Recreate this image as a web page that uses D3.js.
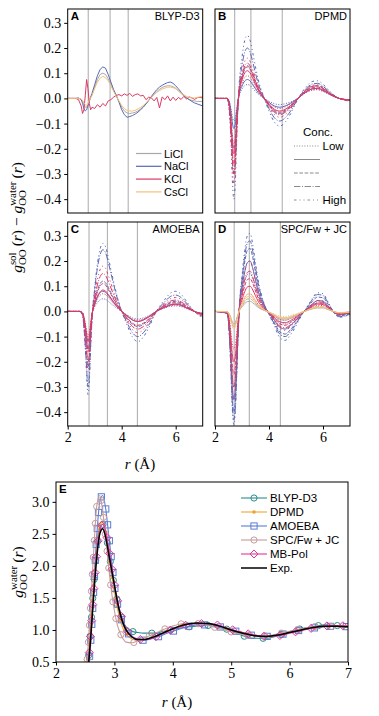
<!DOCTYPE html>
<html><head><meta charset="utf-8">
<script src="https://cdn.jsdelivr.net/npm/d3@7"></script>
<style>body{margin:0;background:#fff;}</style>
</head><body>
<svg id="c" width="379" height="716"></svg>
<script>
// ---------------- DATA ----------------
const rA = [2.0,2.3,2.4,2.5,2.55,2.6,2.65,2.7,2.75,2.8,2.85,2.9,3.0,3.1,3.2,3.3,3.4,3.5,3.6,3.7,3.8,3.9,4.0,4.1,4.2,4.3,4.4,4.5,4.6,4.7,4.8,4.9,5.0,5.1,5.2,5.3,5.4,5.5,5.6,5.7,5.8,5.9,6.0,6.1,6.2,6.3,6.4,6.5,6.6,6.7,6.8,6.9,7.0];
const blypLiCl = [0,0,0,-0.003,-0.012,-0.025,-0.035,-0.035,-0.025,-0.01,0.003,0.015,0.045,0.075,0.095,0.1,0.095,0.078,0.055,0.03,0.01,-0.012,-0.035,-0.05,-0.058,-0.06,-0.058,-0.055,-0.05,-0.042,-0.032,-0.02,-0.008,0.005,0.016,0.027,0.036,0.043,0.048,0.05,0.05,0.046,0.04,0.03,0.02,0.01,0.002,-0.004,-0.008,-0.01,-0.012,-0.012,-0.012];
const blypNaCl = [0,0,0.002,-0.005,-0.02,-0.04,-0.05,-0.045,-0.03,-0.012,0.005,0.02,0.055,0.09,0.115,0.125,0.12,0.095,0.065,0.035,0.012,-0.015,-0.045,-0.065,-0.075,-0.072,-0.068,-0.062,-0.055,-0.045,-0.035,-0.022,-0.008,0.008,0.022,0.035,0.045,0.052,0.058,0.063,0.065,0.06,0.05,0.038,0.025,0.012,0.002,-0.005,-0.012,-0.018,-0.022,-0.026,-0.03];
const blypKCl = [0,0,-0.005,-0.03,-0.06,-0.045,0.01,0.075,0.04,-0.02,-0.045,-0.035,-0.04,-0.025,-0.035,-0.02,-0.03,-0.01,-0.005,0.005,0.012,0.015,0.01,0.018,0.012,0.02,0.008,0.015,0.018,0.01,0.012,-0.005,0.005,0.002,-0.01,0.004,-0.038,0.006,-0.005,0.01,-0.01,0.005,-0.008,0.004,-0.004,0.008,-0.002,0.006,0.002,-0.004,0.003,0.004,0.002];
const blypCsCl = [0,0,0,-0.002,-0.008,-0.018,-0.025,-0.028,-0.02,-0.008,0.002,0.012,0.04,0.065,0.08,0.088,0.082,0.07,0.05,0.028,0.008,-0.01,-0.028,-0.04,-0.048,-0.05,-0.05,-0.047,-0.042,-0.036,-0.028,-0.018,-0.006,0.004,0.014,0.024,0.031,0.037,0.041,0.044,0.045,0.043,0.038,0.03,0.022,0.014,0.008,0.004,0.002,0.002,0.004,0.006,0.008];

const r = [2.0,2.45,2.55,2.6,2.65,2.7,2.75,2.8,2.85,2.9,3.0,3.1,3.2,3.3,3.4,3.5,3.6,3.8,4.0,4.2,4.4,4.6,4.8,5.0,5.2,5.4,5.6,5.8,6.0,6.2,6.4,6.6,6.8,7.0];
// concentration order: dotted(low), solid, dashed, dashdot, loose(high)
const dpmdNaCl = [
 [0,0,-0.018,-0.045,-0.077,-0.09,-0.077,-0.041,-0.009,0.014,0.036,0.051,0.055,0.051,0.04,0.028,0.017,0.002,-0.011,-0.021,-0.025,-0.021,-0.014,-0.004,0.011,0.025,0.033,0.035,0.028,0.018,0.007,0,-0.004,-0.005],
 [0,0,-0.024,-0.06,-0.102,-0.12,-0.102,-0.054,-0.012,0.019,0.049,0.069,0.075,0.069,0.054,0.038,0.023,0.002,-0.016,-0.03,-0.035,-0.03,-0.019,-0.005,0.012,0.028,0.038,0.04,0.032,0.02,0.008,0,-0.004,-0.006],
 [0,0,-0.04,-0.1,-0.17,-0.2,-0.17,-0.09,-0.02,0.033,0.085,0.12,0.13,0.12,0.094,0.065,0.039,0.004,-0.027,-0.051,-0.06,-0.051,-0.033,-0.009,0.015,0.035,0.048,0.05,0.04,0.025,0.01,0,-0.005,-0.008],
 [0,0,-0.06,-0.15,-0.255,-0.3,-0.255,-0.135,-0.03,0.05,0.13,0.184,0.2,0.184,0.144,0.1,0.06,0.006,-0.041,-0.077,-0.09,-0.077,-0.05,-0.014,0.018,0.042,0.057,0.06,0.048,0.03,0.012,0,-0.006,-0.009],
 [0,0,-0.08,-0.2,-0.34,-0.4,-0.34,-0.18,-0.04,0.063,0.163,0.23,0.25,0.23,0.18,0.125,0.075,0.008,-0.05,-0.094,-0.11,-0.094,-0.061,-0.017,0.021,0.049,0.067,0.07,0.056,0.035,0.014,0,-0.007,-0.011]];
const dpmdKCl = [
 [0,0,-0.036,-0.09,-0.153,-0.18,-0.153,-0.081,-0.018,0.023,0.059,0.083,0.09,0.083,0.065,0.045,0.027,0.003,-0.018,-0.034,-0.04,-0.034,-0.022,-0.006,0.011,0.025,0.033,0.035,0.028,0.018,0.007,0,-0.004,-0.005],
 [0,0,-0.044,-0.11,-0.187,-0.22,-0.187,-0.099,-0.022,0.028,0.072,0.101,0.11,0.101,0.079,0.055,0.033,0.003,-0.023,-0.043,-0.05,-0.043,-0.028,-0.008,0.012,0.028,0.038,0.04,0.032,0.02,0.008,0,-0.004,-0.006],
 [0,0,-0.052,-0.13,-0.221,-0.26,-0.221,-0.117,-0.026,0.031,0.081,0.115,0.125,0.115,0.09,0.063,0.038,0.004,-0.025,-0.047,-0.055,-0.047,-0.03,-0.008,0.014,0.032,0.043,0.045,0.036,0.023,0.009,0,-0.005,-0.007],
 [0,0,-0.06,-0.15,-0.255,-0.3,-0.255,-0.135,-0.03,0.035,0.091,0.129,0.14,0.129,0.101,0.07,0.042,0.004,-0.029,-0.055,-0.065,-0.055,-0.036,-0.01,0.015,0.035,0.048,0.05,0.04,0.025,0.01,0,-0.005,-0.008],
 [0,0,-0.068,-0.17,-0.289,-0.34,-0.289,-0.153,-0.034,0.04,0.104,0.147,0.16,0.147,0.115,0.08,0.048,0.005,-0.034,-0.064,-0.075,-0.064,-0.041,-0.011,0.017,0.039,0.052,0.055,0.044,0.028,0.011,0,-0.006,-0.008]];
const amoebaNaCl = [
 [0,0,-0.006,-0.024,-0.054,-0.09,-0.12,-0.102,-0.054,-0.012,0.018,0.035,0.046,0.05,0.048,0.04,0.031,0.014,0,-0.014,-0.026,-0.03,-0.026,-0.017,-0.005,0.006,0.013,0.02,0.022,0.019,0.011,0.003,-0.003,-0.007],
 [0,0,-0.008,-0.03,-0.068,-0.113,-0.15,-0.128,-0.068,-0.015,0.028,0.056,0.074,0.08,0.076,0.064,0.05,0.022,0,-0.018,-0.034,-0.04,-0.034,-0.022,-0.006,0.008,0.018,0.027,0.03,0.026,0.015,0.005,-0.005,-0.009],
 [0,0,-0.011,-0.044,-0.099,-0.165,-0.22,-0.187,-0.099,-0.022,0.042,0.084,0.11,0.12,0.114,0.096,0.074,0.032,0,-0.027,-0.051,-0.06,-0.051,-0.033,-0.009,0.01,0.024,0.036,0.04,0.034,0.02,0.006,-0.006,-0.012],
 [0,0,-0.015,-0.06,-0.135,-0.225,-0.3,-0.255,-0.135,-0.03,0.086,0.172,0.225,0.245,0.233,0.196,0.152,0.066,0,-0.045,-0.085,-0.1,-0.085,-0.055,-0.015,0.016,0.039,0.059,0.065,0.055,0.033,0.01,-0.01,-0.02],
 [0,0,-0.017,-0.066,-0.149,-0.248,-0.33,-0.281,-0.149,-0.033,0.095,0.189,0.248,0.27,0.257,0.216,0.167,0.073,0,-0.054,-0.102,-0.12,-0.102,-0.066,-0.018,0.02,0.048,0.072,0.08,0.068,0.04,0.012,-0.012,-0.024]];
const amoebaKCl = [
 [0,0,-0.005,-0.02,-0.045,-0.075,-0.1,-0.085,-0.045,-0.01,0.025,0.049,0.064,0.07,0.067,0.056,0.043,0.019,0,-0.016,-0.03,-0.035,-0.03,-0.019,-0.005,0.006,0.015,0.023,0.025,0.021,0.013,0.004,-0.004,-0.008],
 [0,0,-0.006,-0.024,-0.054,-0.09,-0.12,-0.102,-0.054,-0.012,0.03,0.06,0.078,0.085,0.081,0.068,0.053,0.023,0,-0.018,-0.034,-0.04,-0.034,-0.022,-0.006,0.007,0.017,0.025,0.028,0.024,0.014,0.004,-0.004,-0.008],
 [0,0,-0.008,-0.032,-0.072,-0.12,-0.16,-0.136,-0.072,-0.016,0.039,0.077,0.101,0.11,0.105,0.088,0.068,0.03,0,-0.025,-0.047,-0.055,-0.047,-0.03,-0.008,0.009,0.021,0.032,0.035,0.03,0.018,0.005,-0.005,-0.011],
 [0,0,-0.01,-0.04,-0.09,-0.15,-0.2,-0.17,-0.09,-0.02,0.053,0.105,0.138,0.15,0.143,0.12,0.093,0.041,0,-0.032,-0.06,-0.07,-0.06,-0.039,-0.011,0.011,0.027,0.041,0.045,0.038,0.023,0.007,-0.007,-0.014],
 [0,0,-0.012,-0.048,-0.108,-0.18,-0.24,-0.204,-0.108,-0.024,0.063,0.126,0.166,0.18,0.171,0.144,0.112,0.049,0,-0.038,-0.072,-0.085,-0.072,-0.047,-0.013,0.014,0.033,0.05,0.055,0.047,0.028,0.008,-0.008,-0.017]];
const spcNaCl = [
 [0,-0.006,-0.09,-0.18,-0.27,-0.3,-0.27,-0.18,-0.075,0.008,0.068,0.117,0.146,0.15,0.128,0.093,0.06,0.018,-0.005,-0.025,-0.045,-0.05,-0.04,-0.025,-0.008,0.007,0.023,0.033,0.032,0.016,-0.002,-0.011,-0.009,-0.005],
 [0,-0.007,-0.105,-0.21,-0.315,-0.35,-0.315,-0.21,-0.088,0.01,0.09,0.156,0.194,0.2,0.17,0.124,0.08,0.024,-0.007,-0.035,-0.063,-0.07,-0.056,-0.035,-0.011,0.009,0.029,0.043,0.041,0.02,-0.002,-0.014,-0.011,-0.007],
 [0,-0.008,-0.12,-0.24,-0.36,-0.4,-0.36,-0.24,-0.1,0.013,0.113,0.195,0.243,0.25,0.213,0.155,0.1,0.03,-0.009,-0.045,-0.081,-0.09,-0.072,-0.045,-0.014,0.012,0.039,0.057,0.054,0.027,-0.003,-0.018,-0.015,-0.009],
 [0,-0.009,-0.129,-0.258,-0.387,-0.43,-0.387,-0.258,-0.108,0.014,0.126,0.218,0.272,0.28,0.238,0.174,0.112,0.034,-0.01,-0.05,-0.09,-0.1,-0.08,-0.05,-0.015,0.014,0.046,0.067,0.063,0.032,-0.004,-0.021,-0.018,-0.011],
 [0,-0.009,-0.135,-0.27,-0.405,-0.45,-0.405,-0.27,-0.113,0.016,0.14,0.242,0.301,0.31,0.264,0.192,0.124,0.037,-0.012,-0.058,-0.104,-0.115,-0.092,-0.058,-0.017,0.016,0.051,0.074,0.07,0.035,-0.004,-0.023,-0.02,-0.012]];
const spcKCl = [
 [0,-0.003,-0.045,-0.09,-0.135,-0.15,-0.135,-0.09,-0.038,0.004,0.032,0.055,0.068,0.07,0.06,0.043,0.028,0.008,-0.004,-0.018,-0.032,-0.035,-0.028,-0.018,-0.005,0.005,0.016,0.024,0.023,0.011,-0.001,-0.008,-0.006,-0.004],
 [0,-0.004,-0.06,-0.12,-0.18,-0.2,-0.18,-0.12,-0.05,0.005,0.045,0.078,0.097,0.1,0.085,0.062,0.04,0.012,-0.005,-0.023,-0.041,-0.045,-0.036,-0.023,-0.007,0.006,0.02,0.029,0.027,0.014,-0.002,-0.009,-0.008,-0.005],
 [0,-0.005,-0.075,-0.15,-0.225,-0.25,-0.225,-0.15,-0.063,0.007,0.059,0.101,0.126,0.13,0.111,0.081,0.052,0.016,-0.006,-0.028,-0.05,-0.055,-0.044,-0.028,-0.008,0.007,0.023,0.033,0.032,0.016,-0.002,-0.011,-0.009,-0.005],
 [0,-0.006,-0.09,-0.18,-0.27,-0.3,-0.27,-0.18,-0.075,0.008,0.072,0.125,0.155,0.16,0.136,0.099,0.064,0.019,-0.007,-0.033,-0.059,-0.065,-0.052,-0.033,-0.01,0.008,0.026,0.038,0.036,0.018,-0.002,-0.012,-0.01,-0.006],
 [0,-0.007,-0.105,-0.21,-0.315,-0.35,-0.315,-0.21,-0.088,0.01,0.09,0.156,0.194,0.2,0.17,0.124,0.08,0.024,-0.008,-0.038,-0.068,-0.075,-0.06,-0.038,-0.011,0.009,0.029,0.043,0.041,0.02,-0.002,-0.014,-0.011,-0.007]];
const spcLiCl = [ // solid, dashed
 [0,-0.001,-0.015,-0.03,-0.045,-0.05,-0.045,-0.03,-0.013,0.002,0.018,0.031,0.039,0.04,0.034,0.025,0.016,0.005,-0.003,-0.015,-0.027,-0.03,-0.024,-0.015,-0.005,0.003,0.01,0.014,0.014,0.007,-0.001,-0.005,-0.004,-0.002],
 [0,-0.001,-0.018,-0.036,-0.054,-0.06,-0.054,-0.036,-0.015,0.003,0.023,0.039,0.049,0.05,0.043,0.031,0.02,0.006,-0.004,-0.018,-0.032,-0.035,-0.028,-0.018,-0.005,0.004,0.013,0.019,0.018,0.009,-0.001,-0.006,-0.005,-0.003]];
const spcCsCl = [ // dotted, solid, dashed
 [0,-0.001,-0.015,-0.03,-0.045,-0.05,-0.045,-0.03,-0.013,0.003,0.023,0.039,0.049,0.05,0.043,0.031,0.02,0.006,-0.002,-0.01,-0.018,-0.02,-0.016,-0.01,-0.003,0.003,0.01,0.014,0.014,0.007,-0.001,-0.005,-0.004,-0.002],
 [0,-0.001,-0.018,-0.036,-0.054,-0.06,-0.054,-0.036,-0.015,0.003,0.027,0.047,0.058,0.06,0.051,0.037,0.024,0.007,-0.003,-0.013,-0.023,-0.025,-0.02,-0.013,-0.004,0.004,0.012,0.017,0.016,0.008,-0.001,-0.005,-0.005,-0.003],
 [0,-0.001,-0.021,-0.042,-0.063,-0.07,-0.063,-0.042,-0.018,0.004,0.032,0.055,0.068,0.07,0.06,0.043,0.028,0.008,-0.003,-0.015,-0.027,-0.03,-0.024,-0.015,-0.005,0.004,0.013,0.019,0.018,0.009,-0.001,-0.006,-0.005,-0.003]];

const rE = [2.4,2.5,2.55,2.6,2.65,2.7,2.75,2.8,2.85,2.9,2.95,3.0,3.05,3.1,3.15,3.2,3.3,3.4,3.5,3.6,3.7,3.8,3.9,4.0,4.2,4.4,4.6,4.8,5.0,5.2,5.4,5.6,5.8,6.0,6.2,6.4,6.6,6.8,7.0];
const gBLYP = [0,0.15,0.5,1.1,1.75,2.3,2.6,2.65,2.5,2.25,1.95,1.68,1.45,1.27,1.13,1.05,0.98,0.96,0.95,0.95,0.95,0.97,0.99,1.01,1.04,1.06,1.07,1.04,0.99,0.91,0.87,0.87,0.91,0.97,1.02,1.05,1.08,1.07,1.05];
const gDPMD = [0,0.15,0.5,1.1,1.8,2.35,2.65,2.68,2.5,2.2,1.88,1.6,1.35,1.15,1.02,0.94,0.86,0.84,0.85,0.87,0.9,0.94,0.98,1.02,1.08,1.1,1.09,1.05,1.0,0.95,0.91,0.9,0.92,0.96,1.0,1.03,1.05,1.06,1.05];
const gAMOEBA = [0,0.08,0.35,0.9,1.7,2.5,3.0,3.1,2.9,2.5,2.1,1.7,1.42,1.22,1.08,0.99,0.9,0.86,0.84,0.85,0.88,0.91,0.95,0.98,1.04,1.08,1.08,1.05,1.0,0.95,0.91,0.9,0.92,0.96,1.0,1.03,1.05,1.06,1.05];
const gSPC = [0.02,0.25,0.75,1.5,2.3,2.95,3.1,2.85,2.45,2.0,1.6,1.3,1.08,0.95,0.86,0.81,0.8,0.83,0.87,0.91,0.95,0.99,1.03,1.06,1.1,1.1,1.07,1.02,0.97,0.93,0.91,0.91,0.94,0.98,1.02,1.05,1.06,1.05,1.04];
const gMBPol = [0,0.12,0.45,1.0,1.65,2.2,2.55,2.65,2.55,2.3,2.0,1.72,1.48,1.28,1.13,1.02,0.9,0.86,0.85,0.86,0.89,0.93,0.97,1.01,1.07,1.1,1.1,1.07,1.01,0.96,0.92,0.9,0.91,0.95,0.99,1.03,1.06,1.07,1.06];
const gExp = [0,0.1,0.4,0.95,1.6,2.15,2.5,2.58,2.45,2.2,1.95,1.7,1.45,1.25,1.1,1.0,0.89,0.85,0.85,0.87,0.9,0.94,0.98,1.02,1.08,1.11,1.1,1.06,1.0,0.95,0.91,0.9,0.92,0.96,1.0,1.04,1.06,1.06,1.05];

const diffTicks = [-0.4,-0.3,-0.2,-0.1,0.0,0.1,0.2,0.3];
const rTicks = [2,4,6];
const eYTicks = [0.5,1.0,1.5,2.0,2.5,3.0];
const eXTicks = [2,3,4,5,6,7];
const vlinesA = [2.76,3.57,4.24], vlinesB = [2.73,3.33,4.49], vlinesC = [2.79,3.47,4.58], vlinesD = [2.71,3.27,4.42];
const saltsA = ["LiCl","NaCl","KCl","CsCl"];
const concLabels = ["Low","","","","High"];
const modelNames = ["BLYP-D3","DPMD","AMOEBA","SPC/Fw + JC","MB-Pol","Exp."];

// ---------------- RENDER ----------------
const svg = d3.select("#c");
const SERIF = "'Liberation Serif','DejaVu Serif',serif";
const SANS = "'Liberation Sans',Arial,sans-serif";
const TICKFS = 14;
const LEGFS = 11;
const dashes = {dotted:"1,1.6", solid:null, dashed:"3.7,1.6", dashdot:"6.4,1.6,1,1.6", loose:"2.5,3,1,3,1,3"};
const concStyles = ["dotted","solid","dashed","dashdot","loose"];
const saltColor = {LiCl:"#a8a8a8", NaCl:"#5a67b5", KCl:"#da3a64", CsCl:"#f4c07a"};
const vColor = "#a9a9a9";
const fmt1 = d => (d<0?"\u2212":"") + Math.abs(d).toFixed(1);

function mk(rs, vs){ return rs.map((x,i)=>[x, vs[i]]); }

const PW = 135, PH = 204;
const panels = [
 {id:"A", title:"BLYP-D3", x0:67.7, y0:9, vl:vlinesA, yAxis:true, xAxis:false,
  series: saltsA.map((s,i)=>({v:mk(rA,[blypLiCl,blypNaCl,blypKCl,blypCsCl][i]), c:saltColor[s], d:null, curve:d3.curveLinear}))},
 {id:"B", title:"DPMD", x0:215, y0:9, vl:vlinesB, yAxis:false, xAxis:false,
  series: [].concat(dpmdNaCl.map((v,i)=>({v:mk(r,v), c:saltColor.NaCl, d:dashes[concStyles[i]]})),
                    dpmdKCl.map((v,i)=>({v:mk(r,v), c:saltColor.KCl, d:dashes[concStyles[i]]})))},
 {id:"C", title:"AMOEBA", x0:67.7, y0:222, vl:vlinesC, yAxis:true, xAxis:true,
  series: [].concat(amoebaNaCl.map((v,i)=>({v:mk(r,v), c:saltColor.NaCl, d:dashes[concStyles[i]]})),
                    amoebaKCl.map((v,i)=>({v:mk(r,v), c:saltColor.KCl, d:dashes[concStyles[i]]})))},
 {id:"D", title:"SPC/Fw + JC", x0:215, y0:222, vl:vlinesD, yAxis:false, xAxis:true,
  series: [].concat(spcNaCl.map((v,i)=>({v:mk(r,v), c:saltColor.NaCl, d:dashes[concStyles[i]]})),
                    spcKCl.map((v,i)=>({v:mk(r,v), c:saltColor.KCl, d:dashes[concStyles[i]]})),
                    spcLiCl.map((v,i)=>({v:mk(r,v), c:saltColor.LiCl, d:dashes[["solid","dashed"][i]]})),
                    spcCsCl.map((v,i)=>({v:mk(r,v), c:saltColor.CsCl, d:dashes[["dotted","solid","dashed"][i]]})))}
];

panels.forEach(p=>{
  const g = svg.append("g");
  const x = d3.scaleLinear().domain([2,7]).range([p.x0, p.x0+PW]);
  const y = d3.scaleLinear().domain([-0.455,0.355]).range([p.y0+PH, p.y0]);
  const cid = "clip"+p.id;
  svg.append("clipPath").attr("id",cid).append("rect").attr("x",p.x0).attr("y",p.y0).attr("width",PW).attr("height",PH);
  const inner = g.append("g").attr("clip-path",`url(#${cid})`);
  inner.selectAll("line.v").data(p.vl).enter().append("line")
    .attr("x1",d=>x(d)).attr("x2",d=>x(d)).attr("y1",p.y0).attr("y2",p.y0+PH)
    .attr("stroke",vColor).attr("stroke-width",1);
  p.series.forEach(s=>{
    const line = d3.line().x(d=>x(d[0])).y(d=>y(d[1])).curve(s.curve||d3.curveMonotoneX);
    inner.append("path").attr("d",line(s.v)).attr("fill","none").attr("stroke",s.c)
      .attr("stroke-width",1).attr("stroke-dasharray",s.d);
  });
  g.append("rect").attr("x",p.x0).attr("y",p.y0).attr("width",PW).attr("height",PH)
    .attr("fill","none").attr("stroke","#000").attr("stroke-width",1);
  if(p.yAxis){
    const ax = g.append("g").attr("transform",`translate(${p.x0},0)`)
      .call(d3.axisLeft(y).tickValues(diffTicks).tickFormat(fmt1).tickSize(3.5).tickPadding(3));
    ax.select(".domain").remove();
    ax.selectAll("text").attr("font-family",SERIF).attr("font-size",TICKFS).attr("fill","#000");
  }
  if(p.xAxis){
    const ax = g.append("g").attr("transform",`translate(0,${p.y0+PH})`)
      .call(d3.axisBottom(x).tickValues(rTicks).tickFormat(d3.format("d")).tickSize(3.5).tickPadding(3));
    ax.select(".domain").remove();
    ax.selectAll("text").attr("font-family",SERIF).attr("font-size",TICKFS).attr("fill","#000");
  }
  g.append("text").attr("x",p.x0+3).attr("y",p.y0+11).attr("font-family",SANS).attr("font-weight","bold")
    .attr("font-size",11.5).text(p.id);
  g.append("text").attr("x",p.x0+PW-3).attr("y",p.y0+11).attr("text-anchor","end").attr("font-family",SANS)
    .attr("font-size",11).text(p.title);
});

// Legend A
(function(){
  const g = svg.append("g");
  saltsA.forEach((s,i)=>{
    const yy = 153.5 + i*12.8;
    g.append("line").attr("x1",136).attr("x2",161.5).attr("y1",yy).attr("y2",yy).attr("stroke",saltColor[s]).attr("stroke-width",1.2);
    g.append("text").attr("x",164).attr("y",yy+4).attr("font-family",SANS).attr("font-size",LEGFS).text(s);
  });
})();
// Legend B
(function(){
  const g = svg.append("g");
  g.append("text").attr("x",318).attr("y",135.5).attr("text-anchor","middle").attr("font-family",SANS).attr("font-size",LEGFS+0.5).text("Conc.");
  concStyles.forEach((c,i)=>{
    const yy = 146 + i*13.5;
    g.append("line").attr("x1",294).attr("x2",320).attr("y1",yy).attr("y2",yy).attr("stroke","#8a8a8a")
      .attr("stroke-width",1).attr("stroke-dasharray",dashes[c]);
    if(concLabels[i]) g.append("text").attr("x",322.5).attr("y",yy+4).attr("font-family",SANS).attr("font-size",LEGFS+0.5).text(concLabels[i]);
  });
})();

// math-style labels (rotated, centred by measured bbox)
function gLabel(parent, tx, ty, sups, size){
  const gg = parent.append("g").attr("transform",`translate(${tx},${ty}) rotate(-90)`);
  const t = gg.append("text").attr("x",0).attr("y",0).attr("font-family",SERIF).attr("font-size",size).attr("fill","#000");
  const fix = [];
  sups.forEach((sup,k)=>{
    if(k>0) t.append("tspan").text(" \u2212 ");
    t.append("tspan").attr("font-style","italic").text("g");
    const sb = t.append("tspan").attr("font-size",size*0.7).attr("dy",size*0.25).text("OO");
    const sp = t.append("tspan").attr("font-size",size*0.7).attr("dy",-size*0.65).text(sup);
    const tail = t.append("tspan").attr("dy",size*0.4).text("\u2009(");
    t.append("tspan").attr("font-style","italic").text("r");
    t.append("tspan").text(")");
    fix.push([sb,sp,tail]);
  });
  fix.forEach(([sb,sp,tail])=>{
    const w1 = sb.node().getComputedTextLength(), w2 = sp.node().getComputedTextLength();
    sp.attr("dx",-w1);
    if(w1>w2) tail.attr("dx",w1-w2);
  });
  const bb = t.node().getBBox();
  t.attr("x", -(bb.x + bb.width/2));
}
gLabel(svg, 22, 217.5, ["sol","water"], 15.5);
gLabel(svg, 23, 572, ["water"], 15.5);

function rLabel(cx, cy){
  const t = svg.append("text").attr("x",cx).attr("y",cy).attr("text-anchor","middle").attr("font-family",SERIF).attr("font-size",15);
  t.append("tspan").attr("font-style","italic").text("r");
  t.append("tspan").text(" (\u00C5)");
}
rLabel(140, 469);

// Panel E
(function(){
  const x0=56, x1=348, y0=482, y1=662;
  const x = d3.scaleLinear().domain([2,7]).range([x0,x1]);
  const y = d3.scaleLinear().domain([0.5,3.31]).range([y1,y0]);
  svg.append("clipPath").attr("id","clipE").append("rect").attr("x",x0).attr("y",y0).attr("width",x1-x0).attr("height",y1-y0);
  const g = svg.append("g");
  const inner = g.append("g").attr("clip-path","url(#clipE)");
  const models = [
    {v:gBLYP, c:"#2a8f8c", m:"circle", sp:19, off:3},
    {v:gDPMD, c:"#f0a42c", m:"dot", sp:15, off:6},
    {v:gAMOEBA, c:"#5b7dd4", m:"square", sp:16, off:9},
    {v:gSPC, c:"#c79c9c", m:"circle", sp:17, off:1},
    {v:gMBPol, c:"#e2379b", m:"diamond", sp:16, off:12},
    {v:gExp, c:"#000", m:null}
  ];
  function marker(sel, m, c, px, py){
    if(m==="circle") sel.append("circle").attr("cx",px).attr("cy",py).attr("r",3.1).attr("fill","none").attr("stroke",c).attr("stroke-width",1);
    else if(m==="dot") sel.append("circle").attr("cx",px).attr("cy",py).attr("r",1.8).attr("fill",c);
    else if(m==="square") sel.append("rect").attr("x",px-3.1).attr("y",py-3.1).attr("width",6.2).attr("height",6.2).attr("fill","none").attr("stroke",c).attr("stroke-width",1);
    else if(m==="diamond") sel.append("path").attr("d",`M${px},${py-4}L${px+4},${py}L${px},${py+4}L${px-4},${py}Z`).attr("fill","none").attr("stroke",c).attr("stroke-width",1);
  }
  const line = d3.line().x(d=>x(d[0])).y(d=>y(d[1])).curve(d3.curveMonotoneX);
  models.forEach(md=>{
    const path = inner.append("path").attr("d",line(mk(rE,md.v))).attr("fill","none").attr("stroke",md.c)
      .attr("stroke-width", md.m? 1.1 : 1.5);
    if(md.m){
      const node = path.node(), L = node.getTotalLength();
      for(let s=md.off; s<L; s+=md.sp){
        const pt = node.getPointAtLength(s);
        if(pt.y<=y1+1 && pt.y>=y0) marker(inner, md.m, md.c, pt.x, pt.y);
      }
    }
  });
  g.append("rect").attr("x",x0).attr("y",y0).attr("width",x1-x0).attr("height",y1-y0).attr("fill","none").attr("stroke","#000").attr("stroke-width",1);
  const ay = g.append("g").attr("transform",`translate(${x0},0)`)
    .call(d3.axisLeft(y).tickValues(eYTicks).tickFormat(fmt1).tickSize(3.5).tickPadding(3));
  ay.select(".domain").remove();
  ay.selectAll("text").attr("font-family",SERIF).attr("font-size",TICKFS).attr("fill","#000");
  const ax = g.append("g").attr("transform",`translate(0,${y1})`)
    .call(d3.axisBottom(x).tickValues(eXTicks).tickFormat(d3.format("d")).tickSize(3.5).tickPadding(3));
  ax.select(".domain").remove();
  ax.selectAll("text").attr("font-family",SERIF).attr("font-size",TICKFS).attr("fill","#000");
  g.append("text").attr("x",x0+3).attr("y",y0+11).attr("font-family",SANS).attr("font-weight","bold").attr("font-size",11.5).text("E");
  // legend
  models.forEach((md,i)=>{
    const yy = 498 + i*14;
    g.append("line").attr("x1",241).attr("x2",267).attr("y1",yy).attr("y2",yy).attr("stroke",md.c).attr("stroke-width",md.m?1.1:1.5);
    if(md.m) marker(g, md.m, md.c, 254, yy);
    g.append("text").attr("x",270).attr("y",yy+4).attr("font-family",SANS).attr("font-size",11.5).text(modelNames[i]);
  });
})();
rLabel(177, 707);
</script>
</body></html>
